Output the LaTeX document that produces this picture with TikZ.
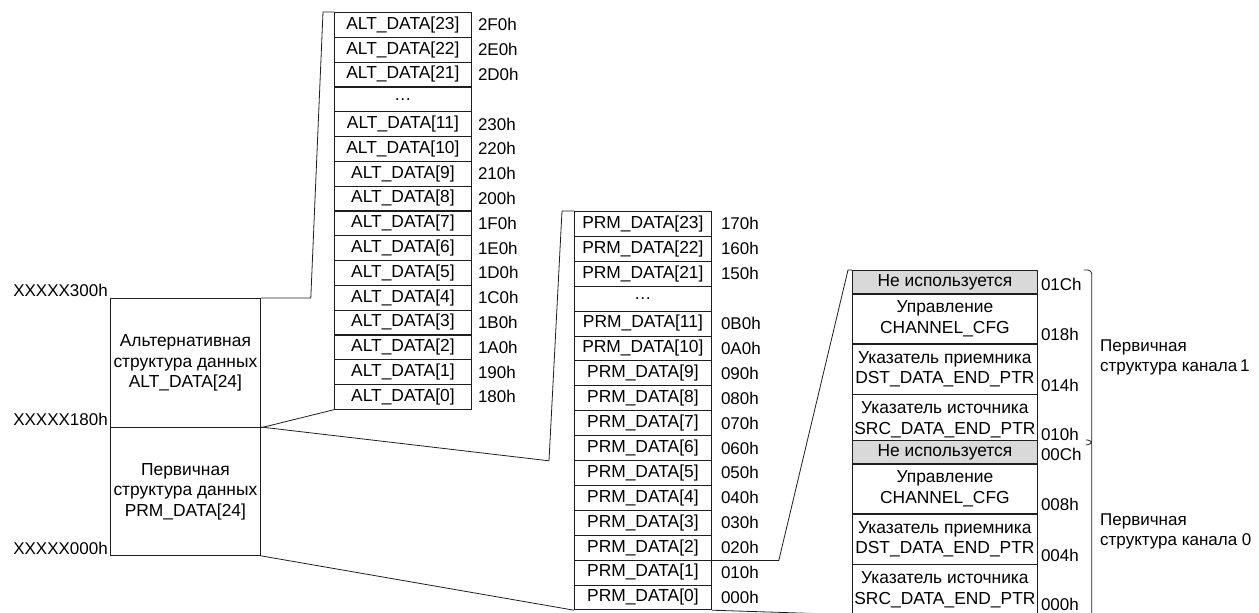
\documentclass[tikz,border=0pt]{standalone}
\usepackage{fontspec}
\setmainfont{Liberation Sans}
\usetikzlibrary{positioning}
\definecolor{linegray}{RGB}{30,30,30}
\definecolor{unusedgray}{RGB}{217,217,217}

\begin{document}
\begin{tikzpicture}[x=1pt, y=-1pt,
  cell/.style={
    rectangle, draw=linegray, line width=0.8pt,
    inner sep=0pt, anchor=north west,
    minimum width=137pt, minimum height=24.9pt,
    font=\fontsize{17.4}{20.5}\selectfont, align=center
  },
  chcell/.style={cell, minimum width=185pt, minimum height=49.5pt},
  unused/.style={chcell, fill=unusedgray, minimum height=23pt},
  addr/.style={font=\fontsize{17}{20}\selectfont, inner sep=1pt},
  note/.style={font=\fontsize{17}{20}\selectfont, inner sep=1pt, align=left},
  link/.style={draw=linegray, line width=0.8pt},
  brk/.style={draw=linegray, line width=0.8pt, rounded corners=4pt},
]
\useasboundingbox (0,0) rectangle (1259,613);

%% Overall layout
\node[cell, minimum width=150pt, minimum height=129pt] (altblk) at (110,298)
  {Альтернативная\\структура данных\\ALT\_DATA[24]};
\node[cell, minimum width=150pt, minimum height=128pt] (prmblk) at (110,427)
  {Первичная\\структура данных\\PRM\_DATA[24]};
\node[note, anchor=south east] at ([xshift=-1pt]altblk.north west) {XXXXX300h};
\node[note, anchor=south east] at ([xshift=-1pt]prmblk.north west) {XXXXX180h};
\node[note, anchor=south east] at ([xshift=-1pt]prmblk.south west) {XXXXX000h};

%% Alternative structures
\foreach \txt/\adr [count=\i from 0] in {
  ALT\_DATA[23]/2F0h, ALT\_DATA[22]/2E0h, ALT\_DATA[21]/2D0h, \ldots/{},
  ALT\_DATA[11]/230h, ALT\_DATA[10]/220h, ALT\_DATA[9]/210h, ALT\_DATA[8]/200h,
  ALT\_DATA[7]/1F0h, ALT\_DATA[6]/1E0h, ALT\_DATA[5]/1D0h, ALT\_DATA[4]/1C0h,
  ALT\_DATA[3]/1B0h, ALT\_DATA[2]/1A0h, ALT\_DATA[1]/190h, ALT\_DATA[0]/180h} {
  \node[cell] (alt\i) at (334,{12+24.8*\i}) {\txt};
  \node[addr, right=5pt of alt\i] {\adr};
}

%% Primary structures
\foreach \txt/\adr [count=\i from 0] in {
  PRM\_DATA[23]/170h, PRM\_DATA[22]/160h, PRM\_DATA[21]/150h, \ldots/{},
  PRM\_DATA[11]/0B0h, PRM\_DATA[10]/0A0h, PRM\_DATA[9]/090h, PRM\_DATA[8]/080h,
  PRM\_DATA[7]/070h, PRM\_DATA[6]/060h, PRM\_DATA[5]/050h, PRM\_DATA[4]/040h,
  PRM\_DATA[3]/030h, PRM\_DATA[2]/020h, PRM\_DATA[1]/010h, PRM\_DATA[0]/000h} {
  \node[cell] (prm\i) at (574,{211+24.9*\i}) {\txt};
  \node[addr, right=8pt of prm\i] {\adr};
}

%% Channel structures
\foreach \c/\aa/\ab/\ac/\ad in {1/01Ch/018h/014h/010h, 0/00Ch/008h/004h/000h} {
  \node[unused] (unused\c) at (852,{270+170*(1-\c)}) {Не используется};
  \node[chcell, below=0pt of unused\c] (cfg\c) {Управление\\CHANNEL\_CFG};
  \node[chcell, below=0pt of cfg\c] (dst\c) {Указатель приемника\\DST\_DATA\_END\_PTR};
  \node[chcell, below=0pt of dst\c] (src\c) {Указатель источника\\SRC\_DATA\_END\_PTR};
  \node[addr, anchor=south west] at ([shift={(2pt,2pt)}]unused\c.south east) {\aa};
  \node[addr, anchor=south west] at ([shift={(2pt,2pt)}]cfg\c.south east) {\ab};
  \node[addr, anchor=south west] at ([shift={(2pt,2pt)}]dst\c.south east) {\ac};
  \node[addr, anchor=south west] at ([shift={(2pt,3pt)}]src\c.south east) {\ad};
}

%% Braces
\draw[brk] ([xshift=46pt]unused1.north east) -- ++(8,0) |- ([xshift=48pt]src1.south east);
\draw[brk] ([xshift=48pt]unused0.north east) -- ++(6,0) -- ([xshift=54pt]src0.south east);
\node[note, anchor=west] at (1099,357) {Первичная\\структура канала\,1};
\node[note, anchor=west] at (1099,531) {Первичная\\структура канала 0};

%% Zoom lines
\draw[link] (altblk.north east) -- ++(50,0) -- ([xshift=-11pt]alt0.north west) -- (alt0.north west);
\draw[link] (altblk.south east) -- (alt15.south west);
\draw[link] (prmblk.north east) -- ([xshift=-25pt]prm9.south west)
  -- ([xshift=-12pt]prm0.north west) -- (prm0.north west);
\draw[link] (prmblk.south east) -- (prm15.south west);
\draw[link] (prm15.south east) -- (src0.south west);
\draw[link] (prm13.south east) -- ++(67,0) -- ([xshift=-4pt]unused1.north west) -- (unused1.north west);

\end{tikzpicture}
\end{document}
